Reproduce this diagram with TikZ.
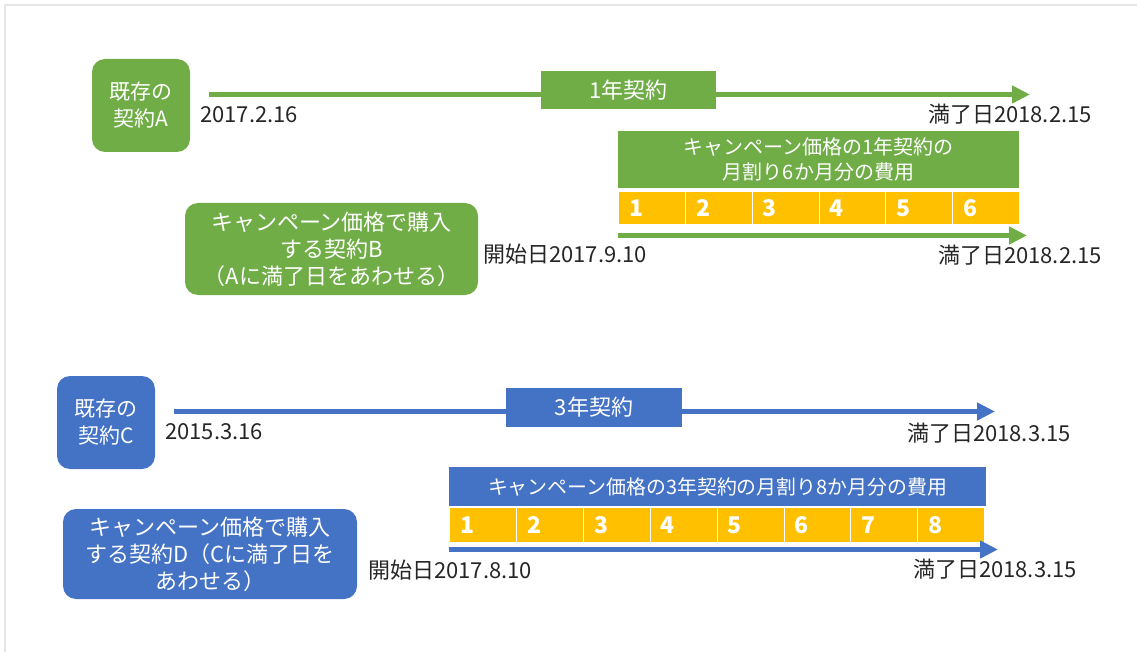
\documentclass[tikz,border=0pt]{standalone}
\usepackage{fontspec}
\setmainfont{Noto Sans CJK JP}
\usetikzlibrary{arrows.meta}
\definecolor{ogreen}{HTML}{70AD47}
\definecolor{oblue}{HTML}{4472C4}
\definecolor{oyellow}{HTML}{FFC000}
\definecolor{otext}{HTML}{262626}
\definecolor{oframe}{HTML}{E6E6E6}
\tikzset{
  rbox/.style={rounded corners=13pt, text=white, align=center, inner sep=0pt,
    font=\fontsize{21}{27}\selectfont},
  sqbox/.style={text=white, align=center, inner sep=0pt},
  yearfont/.style={font=\fontsize{22}{27}\selectfont},
  campfont/.style={font=\fontsize{20}{25}\selectfont},
  datelbl/.style={inner sep=0pt, text=otext, font=\fontsize{22}{26}\selectfont},
  cellbox/.style={fill=oyellow, draw=white, line width=1pt, inner sep=0pt,
    minimum height=#1, minimum width=66.9pt, anchor=north west},
  cellnum/.style={inner sep=0pt, text=white, anchor=west, font=\fontsize{23}{26}\selectfont\bfseries},
  tline/.style={line width=5.5pt, -{Triangle[length=18pt,width=17pt]}},
}
\begin{document}
\begin{tikzpicture}[x=1pt,y=-1pt]
\useasboundingbox (0,0) rectangle (1137,652);
\draw[oframe, line width=2pt] (5,652) -- (5,5) -- (1137,5);

% ---------- green part ----------
\node[rbox, fill=ogreen, minimum width=98pt, minimum height=93pt] (boxA) at (141,105.5) {既存の\\契約A};
\coordinate (aS) at (209,94.5);
\coordinate (aE) at (1030,94.5);
\draw[tline, ogreen] (aS) -- (aE);
\node[sqbox, yearfont, fill=ogreen, minimum width=175pt, minimum height=38pt] (yearA) at (628.5,90.5) {1年契約};
\node[datelbl, anchor=base west] (startA) at (200,123) {2017.2.16};
\node[datelbl, anchor=base east] (endA) at (1092,123) {満了日2018.2.15};

\node[sqbox, campfont, fill=ogreen, minimum width=401pt, minimum height=57pt] (campB) at (818.5,159.5) {キャンペーン価格の1年契約の\\月割り6か月分の費用};
\foreach \i in {1,...,6} {
  \node[cellbox=33pt] (g\i) at ({618+(\i-1)*66.83},191) {};
  \node[cellnum] (gn\i) at ([xshift=11pt]g\i.west) {\i};
}
\coordinate (bS) at (618,235.5);
\coordinate (bE) at (1027,235.5);
\draw[tline, ogreen] (bS) -- (bE);
\node[rbox, fill=ogreen, minimum width=293pt, minimum height=92pt, font=\fontsize{22}{27}\selectfont] (boxB) at (331.5,249) {キャンペーン価格で購入\\する契約B\\（Aに満了日をあわせる）};
\node[datelbl, anchor=base west] (startB) at (483,262) {開始日2017.9.10};
\node[datelbl, anchor=base east] (endB) at (1102,264) {満了日2018.2.15};

% ---------- blue part ----------
\node[rbox, fill=oblue, minimum width=98pt, minimum height=93pt] (boxC) at (106,422.5) {既存の\\契約C};
\coordinate (cS) at (174,411.5);
\coordinate (cE) at (995,411.5);
\draw[tline, oblue] (cS) -- (cE);
\node[sqbox, yearfont, fill=oblue, minimum width=176pt, minimum height=39pt] (yearC) at (594,407.5) {3年契約};
\node[datelbl, anchor=base west] (startC) at (165,439) {2015.3.16};
\node[datelbl, anchor=base east] (endC) at (1071,441) {満了日2018.3.15};

\node[sqbox, fill=oblue, minimum width=537pt, minimum height=39pt, font=\fontsize{19.9}{24}\selectfont] (campD) at (717.5,486.5) {キャンペーン価格の3年契約の月割り8か月分の費用};
\foreach \i in {1,...,8} {
  \node[cellbox=35pt] (b\i) at ({449+(\i-1)*66.9},507) {};
  \node[cellnum] (bn\i) at ([xshift=11pt]b\i.west) {\i};
}
\coordinate (dS) at (449,549.5);
\coordinate (dE) at (998,549.5);
\draw[tline, oblue] (dS) -- (dE);
\node[rbox, fill=oblue, minimum width=294pt, minimum height=90pt, font=\fontsize{22}{27}\selectfont] (boxD) at (210,554) {キャンペーン価格で購入\\する契約D（Cに満了日を\\あわせる）};
\node[datelbl, anchor=base west] (startD) at (368,578) {開始日2017.8.10};
\node[datelbl, anchor=base east] (endD) at (1077,577) {満了日2018.3.15};
\end{tikzpicture}
\end{document}
